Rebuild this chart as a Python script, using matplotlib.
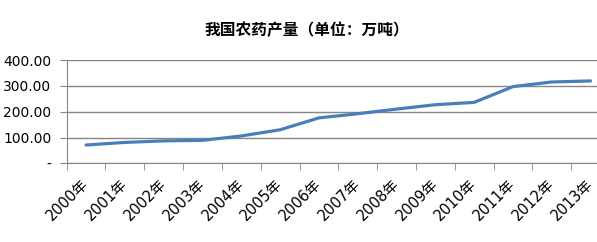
import numpy as np
import matplotlib.pyplot as plt
from matplotlib.ticker import FixedLocator, FuncFormatter

years = ['2000年', '2001年', '2002年', '2003年', '2004年', '2005年', '2006年',
         '2007年', '2008年', '2009年', '2010年', '2011年', '2012年', '2013年']
output = [71, 81, 87, 89, 106, 130, 176, 192, 210, 227, 236, 297, 315, 319]

title = '我国农药产量（单位：万吨）'
fonts = ['DejaVu Sans', 'Noto Sans CJK SC']

fig = plt.figure(figsize=(5.97, 2.42), dpi=100)
ax = fig.add_axes([0.1117, 0.325, 0.910, 0.427])

x = np.arange(len(years))
ax.plot(x, output, color='#4a7ebb', linewidth=2.3, solid_capstyle='round', zorder=3)

ax.set_xlim(-0.5, len(years) - 0.5)
ax.set_ylim(0, 400)
ax.set_yticks([0, 100, 200, 300, 400])
ax.yaxis.set_major_formatter(FuncFormatter(lambda v, p: '-' if v == 0 else f'{v:.2f}'))
ax.grid(axis='y', color='#868686', linewidth=1.0)
ax.set_axisbelow(True)

ax.set_xticks(x)
ax.set_xticklabels(years, rotation=45, ha='right', va='center', rotation_mode='anchor',
                   family=fonts, fontsize=10.5)
ax.xaxis.set_minor_locator(FixedLocator(np.arange(-0.5, len(years), 1.0)))
ax.tick_params(axis='x', which='major', length=0, pad=13)
ax.tick_params(axis='x', which='minor', length=5, color='#868686', direction='out')
ax.tick_params(axis='y', length=5, color='#868686', labelsize=10, pad=6)

for s in ['top', 'right']:
    ax.spines[s].set_visible(False)
for s in ['left', 'bottom']:
    ax.spines[s].set_color('#868686')

fig.text(0.514, 0.876, title, ha='center', va='center', fontsize=11.3,
         family=['Noto Sans CJK SC'], fontweight='bold')

fig.savefig('out.png', dpi=100)
